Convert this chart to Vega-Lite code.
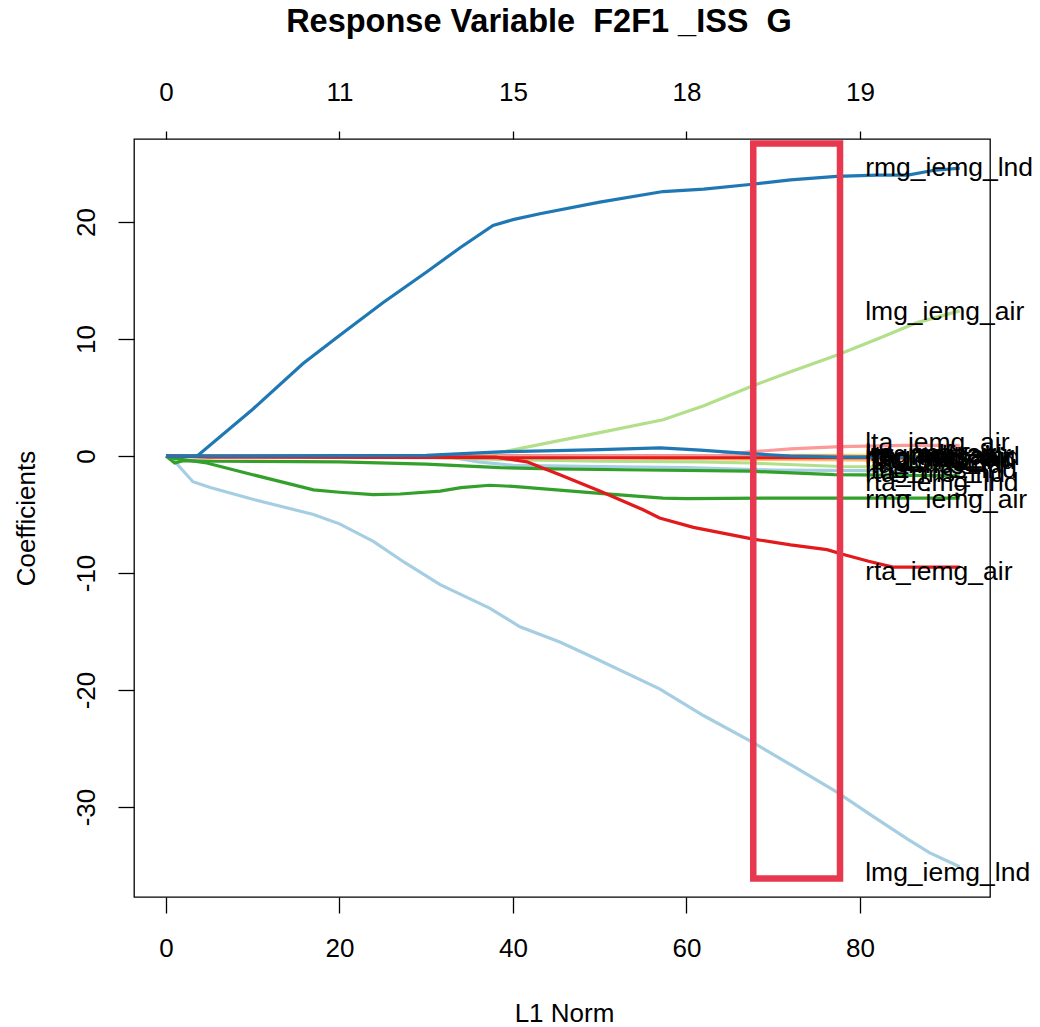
{
  "$schema": "https://vega.github.io/schema/vega-lite/v6.json",
  "width": 856,
  "height": 758,
  "autosize": {"type": "none"},
  "padding": {"left": 134, "top": 139, "right": 50, "bottom": 130},
  "background": "white",
  "config": {
    "view": {"stroke": "black", "strokeWidth": 1.3},
    "font": "Liberation Sans"
  },
  "title": {
    "text": "Response Variable\u00a0 F2F1 _ISS\u00a0 G",
    "font": "Liberation Sans",
    "fontSize": 32.5,
    "fontWeight": "bold",
    "color": "black",
    "anchor": "middle",
    "baseline": "alphabetic",
    "offset": 15,
    "dx": -23
  },
  "datasets": {
    "paths": [
      {"var": "rta_mdf_air", "l1": 0, "coef": 0},
      {"var": "rta_mdf_air", "l1": 85, "coef": 0},
      {"var": "rta_mdf_air", "l1": 91.5, "coef": -0.05},

      {"var": "rta_iemg_lnd", "l1": 0, "coef": 0},
      {"var": "rta_iemg_lnd", "l1": 50, "coef": 0},
      {"var": "rta_iemg_lnd", "l1": 70, "coef": -0.2},
      {"var": "rta_iemg_lnd", "l1": 91.5, "coef": -0.3},

      {"var": "lta_mdf_air", "l1": 0, "coef": 0},
      {"var": "lta_mdf_air", "l1": 80, "coef": 0},
      {"var": "lta_mdf_air", "l1": 91.5, "coef": 0.05},

      {"var": "lta_iemg_lnd", "l1": 0, "coef": 0},
      {"var": "lta_iemg_lnd", "l1": 45, "coef": -0.1},
      {"var": "lta_iemg_lnd", "l1": 70, "coef": -0.3},
      {"var": "lta_iemg_lnd", "l1": 91.5, "coef": -0.4},

      {"var": "lmg_rms_air", "l1": 0, "coef": 0},
      {"var": "lmg_rms_air", "l1": 60, "coef": 0},
      {"var": "lmg_rms_air", "l1": 91.5, "coef": 0.1},

      {"var": "rmg_rms_air", "l1": 0, "coef": 0},
      {"var": "rmg_rms_air", "l1": 70, "coef": 0},
      {"var": "rmg_rms_air", "l1": 91.5, "coef": -0.2},

      {"var": "lta_rms_air", "l1": 0, "coef": 0},
      {"var": "lta_rms_air", "l1": 65, "coef": 0},
      {"var": "lta_rms_air", "l1": 91.5, "coef": 0.2},

      {"var": "rta_rms_air", "l1": 0, "coef": 0},
      {"var": "rta_rms_air", "l1": 75, "coef": 0},
      {"var": "rta_rms_air", "l1": 91.5, "coef": -0.1},

      {"var": "lmg_mdf_air", "l1": 0, "coef": 0},
      {"var": "lmg_mdf_air", "l1": 70, "coef": 0},
      {"var": "lmg_mdf_air", "l1": 91.5, "coef": -0.15},

      {"var": "lmg_iemg_lnd", "l1": 0, "coef": 0},
      {"var": "lmg_iemg_lnd", "l1": 0.8, "coef": -0.3},
      {"var": "lmg_iemg_lnd", "l1": 3.1, "coef": -2.2},
      {"var": "lmg_iemg_lnd", "l1": 5.1, "coef": -2.7},
      {"var": "lmg_iemg_lnd", "l1": 10, "coef": -3.7},
      {"var": "lmg_iemg_lnd", "l1": 17, "coef": -5.0},
      {"var": "lmg_iemg_lnd", "l1": 20, "coef": -5.8},
      {"var": "lmg_iemg_lnd", "l1": 23.9, "coef": -7.3},
      {"var": "lmg_iemg_lnd", "l1": 27.5, "coef": -9.1},
      {"var": "lmg_iemg_lnd", "l1": 31.6, "coef": -11.0},
      {"var": "lmg_iemg_lnd", "l1": 37.3, "coef": -13.0},
      {"var": "lmg_iemg_lnd", "l1": 40.8, "coef": -14.6},
      {"var": "lmg_iemg_lnd", "l1": 45.4, "coef": -15.9},
      {"var": "lmg_iemg_lnd", "l1": 48.9, "coef": -17.1},
      {"var": "lmg_iemg_lnd", "l1": 56.9, "coef": -19.9},
      {"var": "lmg_iemg_lnd", "l1": 62, "coef": -22.2},
      {"var": "lmg_iemg_lnd", "l1": 67.7, "coef": -24.5},
      {"var": "lmg_iemg_lnd", "l1": 72.5, "coef": -26.6},
      {"var": "lmg_iemg_lnd", "l1": 77.3, "coef": -28.7},
      {"var": "lmg_iemg_lnd", "l1": 81.5, "coef": -30.8},
      {"var": "lmg_iemg_lnd", "l1": 85.4, "coef": -32.7},
      {"var": "lmg_iemg_lnd", "l1": 88, "coef": -33.9},
      {"var": "lmg_iemg_lnd", "l1": 91.5, "coef": -35.1},

      {"var": "lmg_iemg_air", "l1": 0, "coef": 0},
      {"var": "lmg_iemg_air", "l1": 35, "coef": 0},
      {"var": "lmg_iemg_air", "l1": 38.5, "coef": 0.3},
      {"var": "lmg_iemg_air", "l1": 44.6, "coef": 1.2},
      {"var": "lmg_iemg_air", "l1": 50, "coef": 2.0},
      {"var": "lmg_iemg_air", "l1": 57.3, "coef": 3.1},
      {"var": "lmg_iemg_air", "l1": 62, "coef": 4.3},
      {"var": "lmg_iemg_air", "l1": 67.3, "coef": 5.9},
      {"var": "lmg_iemg_air", "l1": 72, "coef": 7.2},
      {"var": "lmg_iemg_air", "l1": 77.3, "coef": 8.6},
      {"var": "lmg_iemg_air", "l1": 82, "coef": 10.0},
      {"var": "lmg_iemg_air", "l1": 86.6, "coef": 11.4},
      {"var": "lmg_iemg_air", "l1": 91.5, "coef": 12.4},

      {"var": "lmg_rms_lnd", "l1": 0, "coef": 0},
      {"var": "lmg_rms_lnd", "l1": 32, "coef": 0},
      {"var": "lmg_rms_lnd", "l1": 36, "coef": -0.5},
      {"var": "lmg_rms_lnd", "l1": 40, "coef": -0.8},
      {"var": "lmg_rms_lnd", "l1": 50, "coef": -0.9},
      {"var": "lmg_rms_lnd", "l1": 60, "coef": -1.0},
      {"var": "lmg_rms_lnd", "l1": 70, "coef": -1.2},
      {"var": "lmg_rms_lnd", "l1": 80, "coef": -1.25},
      {"var": "lmg_rms_lnd", "l1": 91.5, "coef": -1.3},

      {"var": "lta_rms_lnd", "l1": 0, "coef": 0},
      {"var": "lta_rms_lnd", "l1": 30, "coef": -0.1},
      {"var": "lta_rms_lnd", "l1": 38.5, "coef": -0.3},
      {"var": "lta_rms_lnd", "l1": 50, "coef": -0.45},
      {"var": "lta_rms_lnd", "l1": 61.6, "coef": -0.5},
      {"var": "lta_rms_lnd", "l1": 67.3, "coef": -0.6},
      {"var": "lta_rms_lnd", "l1": 77.7, "coef": -0.9},
      {"var": "lta_rms_lnd", "l1": 91.5, "coef": -1.0},

      {"var": "rmg_iemg_air", "l1": 0, "coef": 0},
      {"var": "rmg_iemg_air", "l1": 1, "coef": -0.2},
      {"var": "rmg_iemg_air", "l1": 4.7, "coef": -0.6},
      {"var": "rmg_iemg_air", "l1": 10, "coef": -1.6},
      {"var": "rmg_iemg_air", "l1": 17, "coef": -2.9},
      {"var": "rmg_iemg_air", "l1": 20, "coef": -3.1},
      {"var": "rmg_iemg_air", "l1": 23.9, "coef": -3.3},
      {"var": "rmg_iemg_air", "l1": 27, "coef": -3.25},
      {"var": "rmg_iemg_air", "l1": 31.6, "coef": -3.0},
      {"var": "rmg_iemg_air", "l1": 34, "coef": -2.7},
      {"var": "rmg_iemg_air", "l1": 37.3, "coef": -2.5},
      {"var": "rmg_iemg_air", "l1": 40, "coef": -2.6},
      {"var": "rmg_iemg_air", "l1": 45, "coef": -2.9},
      {"var": "rmg_iemg_air", "l1": 50, "coef": -3.2},
      {"var": "rmg_iemg_air", "l1": 57.3, "coef": -3.6},
      {"var": "rmg_iemg_air", "l1": 60, "coef": -3.65},
      {"var": "rmg_iemg_air", "l1": 70, "coef": -3.6},
      {"var": "rmg_iemg_air", "l1": 80, "coef": -3.6},
      {"var": "rmg_iemg_air", "l1": 91.5, "coef": -3.6},

      {"var": "rta_rms_lnd", "l1": 0, "coef": 0},
      {"var": "rta_rms_lnd", "l1": 0.5, "coef": -0.3},
      {"var": "rta_rms_lnd", "l1": 1, "coef": -0.6},
      {"var": "rta_rms_lnd", "l1": 2, "coef": -0.4},
      {"var": "rta_rms_lnd", "l1": 5.8, "coef": -0.45},
      {"var": "rta_rms_lnd", "l1": 20, "coef": -0.5},
      {"var": "rta_rms_lnd", "l1": 30, "coef": -0.7},
      {"var": "rta_rms_lnd", "l1": 38.5, "coef": -1.0},
      {"var": "rta_rms_lnd", "l1": 44.6, "coef": -1.1},
      {"var": "rta_rms_lnd", "l1": 55, "coef": -1.2},
      {"var": "rta_rms_lnd", "l1": 67.3, "coef": -1.3},
      {"var": "rta_rms_lnd", "l1": 77, "coef": -1.6},
      {"var": "rta_rms_lnd", "l1": 91.5, "coef": -1.7},

      {"var": "lta_iemg_air", "l1": 0, "coef": 0},
      {"var": "lta_iemg_air", "l1": 60, "coef": 0},
      {"var": "lta_iemg_air", "l1": 64, "coef": 0.05},
      {"var": "lta_iemg_air", "l1": 67.3, "coef": 0.35},
      {"var": "lta_iemg_air", "l1": 72, "coef": 0.6},
      {"var": "lta_iemg_air", "l1": 77.7, "coef": 0.8},
      {"var": "lta_iemg_air", "l1": 85, "coef": 0.9},
      {"var": "lta_iemg_air", "l1": 91.5, "coef": 0.9},

      {"var": "rta_iemg_air", "l1": 0, "coef": 0},
      {"var": "rta_iemg_air", "l1": 38, "coef": -0.1},
      {"var": "rta_iemg_air", "l1": 41.6, "coef": -0.5},
      {"var": "rta_iemg_air", "l1": 45.4, "coef": -1.6},
      {"var": "rta_iemg_air", "l1": 50, "coef": -3.0},
      {"var": "rta_iemg_air", "l1": 55, "coef": -4.6},
      {"var": "rta_iemg_air", "l1": 56.9, "coef": -5.3},
      {"var": "rta_iemg_air", "l1": 60.8, "coef": -6.1},
      {"var": "rta_iemg_air", "l1": 67.7, "coef": -7.1},
      {"var": "rta_iemg_air", "l1": 72, "coef": -7.6},
      {"var": "rta_iemg_air", "l1": 76.2, "coef": -8.0},
      {"var": "rta_iemg_air", "l1": 78, "coef": -8.4},
      {"var": "rta_iemg_air", "l1": 81, "coef": -9.0},
      {"var": "rta_iemg_air", "l1": 83.8, "coef": -9.5},
      {"var": "rta_iemg_air", "l1": 91.5, "coef": -9.5},

      {"var": "rmg_mdf_air", "l1": 0, "coef": 0},
      {"var": "rmg_mdf_air", "l1": 5, "coef": -0.1},
      {"var": "rmg_mdf_air", "l1": 40, "coef": -0.15},
      {"var": "rmg_mdf_air", "l1": 91.5, "coef": -0.15},

      {"var": "rmg_iemg_lnd", "l1": 0, "coef": 0},
      {"var": "rmg_iemg_lnd", "l1": 3.6, "coef": 0},
      {"var": "rmg_iemg_lnd", "l1": 10, "coef": 4.0},
      {"var": "rmg_iemg_lnd", "l1": 15.8, "coef": 7.9},
      {"var": "rmg_iemg_lnd", "l1": 20, "coef": 10.3},
      {"var": "rmg_iemg_lnd", "l1": 25, "coef": 13.1},
      {"var": "rmg_iemg_lnd", "l1": 30, "coef": 15.7},
      {"var": "rmg_iemg_lnd", "l1": 33.9, "coef": 17.8},
      {"var": "rmg_iemg_lnd", "l1": 37.7, "coef": 19.7},
      {"var": "rmg_iemg_lnd", "l1": 40, "coef": 20.2},
      {"var": "rmg_iemg_lnd", "l1": 43.1, "coef": 20.7},
      {"var": "rmg_iemg_lnd", "l1": 50, "coef": 21.7},
      {"var": "rmg_iemg_lnd", "l1": 57.3, "coef": 22.6},
      {"var": "rmg_iemg_lnd", "l1": 62, "coef": 22.8},
      {"var": "rmg_iemg_lnd", "l1": 67.3, "coef": 23.2},
      {"var": "rmg_iemg_lnd", "l1": 72, "coef": 23.6},
      {"var": "rmg_iemg_lnd", "l1": 77.3, "coef": 23.9},
      {"var": "rmg_iemg_lnd", "l1": 82, "coef": 24.0},
      {"var": "rmg_iemg_lnd", "l1": 85.5, "coef": 24.0},
      {"var": "rmg_iemg_lnd", "l1": 88.4, "coef": 24.4},
      {"var": "rmg_iemg_lnd", "l1": 91.5, "coef": 24.6},

      {"var": "rmg_rms_lnd", "l1": 0, "coef": 0},
      {"var": "rmg_rms_lnd", "l1": 30, "coef": 0.05},
      {"var": "rmg_rms_lnd", "l1": 38.5, "coef": 0.35},
      {"var": "rmg_rms_lnd", "l1": 45, "coef": 0.45},
      {"var": "rmg_rms_lnd", "l1": 50, "coef": 0.55},
      {"var": "rmg_rms_lnd", "l1": 57, "coef": 0.7},
      {"var": "rmg_rms_lnd", "l1": 61.6, "coef": 0.5},
      {"var": "rmg_rms_lnd", "l1": 67.3, "coef": 0.2},
      {"var": "rmg_rms_lnd", "l1": 72, "coef": 0.0},
      {"var": "rmg_rms_lnd", "l1": 77.7, "coef": -0.1},
      {"var": "rmg_rms_lnd", "l1": 91.5, "coef": -0.1}
    ],
    "labels": [
      {"var": "rmg_iemg_lnd", "l1": 80.6, "coef": 24.6},
      {"var": "lmg_iemg_air", "l1": 80.6, "coef": 12.3},
      {"var": "lta_iemg_air", "l1": 80.6, "coef": 1.1},
      {"var": "lta_rms_air", "l1": 80.6, "coef": 0.2},
      {"var": "lmg_rms_air", "l1": 80.6, "coef": 0.1},
      {"var": "lta_mdf_air", "l1": 80.6, "coef": 0.05},
      {"var": "rta_mdf_air", "l1": 80.6, "coef": 0.0},
      {"var": "rmg_rms_lnd", "l1": 80.6, "coef": -0.05},
      {"var": "rta_rms_air", "l1": 80.6, "coef": -0.1},
      {"var": "rmg_mdf_air", "l1": 80.6, "coef": -0.15},
      {"var": "lmg_mdf_air", "l1": 80.6, "coef": -0.2},
      {"var": "rmg_rms_air", "l1": 80.6, "coef": -0.3},
      {"var": "lta_iemg_lnd", "l1": 80.6, "coef": -0.4},
      {"var": "lta_rms_lnd", "l1": 80.6, "coef": -0.8},
      {"var": "lmg_rms_lnd", "l1": 80.6, "coef": -1.2},
      {"var": "rta_rms_lnd", "l1": 80.6, "coef": -1.5},
      {"var": "rta_iemg_lnd", "l1": 80.6, "coef": -2.3},
      {"var": "rmg_iemg_air", "l1": 80.6, "coef": -3.8},
      {"var": "rta_iemg_air", "l1": 80.6, "coef": -9.9},
      {"var": "lmg_iemg_lnd", "l1": 80.6, "coef": -35.6}
    ],
    "box": [
      {"l1": 67.7, "l1_end": 77.7, "coef": 26.7, "coef_end": -36.1}
    ]
  },
  "layer": [
    {
      "data": {"name": "paths"},
      "mark": {"type": "line", "strokeWidth": 3.2, "clip": true},
      "encoding": {
        "x": {
          "field": "l1", "type": "quantitative",
          "scale": {"domain": [-3.69, 94.99], "nice": false, "zero": false},
          "axis": {
            "orient": "bottom",
            "values": [0, 20, 40, 60, 80],
            "title": "L1 Norm",
            "domain": false, "grid": false,
            "tickSize": 16, "tickColor": "black", "tickWidth": 1.3,
            "labelFont": "Liberation Sans", "labelFontSize": 26, "labelColor": "black",
            "labelBaseline": "alphabetic", "labelPadding": 43,
            "titleFont": "Liberation Sans", "titleFontSize": 26, "titleFontWeight": "normal", "titleColor": "black",
            "titleBaseline": "alphabetic", "titleX": 430, "titleY": 124.5, "titleAnchor": "middle"
          }
        },
        "y": {
          "field": "coef", "type": "quantitative",
          "scale": {"domain": [-37.69, 27.09], "nice": false, "zero": false},
          "axis": {
            "values": [20, 10, 0, -10, -20, -30],
            "labelExpr": "'' + datum.value",
            "title": "Coefficients",
            "domain": false, "grid": false,
            "tickSize": 16, "tickColor": "black", "tickWidth": 1.3,
            "labelFont": "Liberation Sans", "labelFontSize": 26, "labelColor": "black",
            "labelAngle": -90, "labelAlign": "center", "labelBaseline": "alphabetic", "labelPadding": 23.5,
            "titleFont": "Liberation Sans", "titleFontSize": 26, "titleFontWeight": "normal", "titleColor": "black",
            "titleAngle": -90, "titleBaseline": "alphabetic", "titleAlign": "center",
            "titleX": -99.5, "titleY": 379
          }
        },
        "color": {
          "field": "var", "type": "nominal", "legend": null,
          "scale": {
            "domain": ["lmg_iemg_lnd", "rmg_iemg_lnd", "lmg_iemg_air", "rmg_iemg_air", "lta_iemg_air", "rta_iemg_air", "lta_iemg_lnd", "rta_iemg_lnd", "lmg_rms_air", "rmg_rms_air", "lta_rms_air", "rta_rms_air", "lmg_rms_lnd", "rmg_rms_lnd", "lta_rms_lnd", "rta_rms_lnd", "lmg_mdf_air", "rmg_mdf_air", "lta_mdf_air", "rta_mdf_air"],
            "range": ["#A6CEE3", "#1F78B4", "#B2DF8A", "#33A02C", "#FB9A99", "#E31A1C", "#FDBF6F", "#FF7F00", "#CAB2D6", "#6A3D9A", "#FFFF99", "#B15928", "#A6CEE3", "#1F78B4", "#B2DF8A", "#33A02C", "#FB9A99", "#E31A1C", "#FDBF6F", "#FF7F00"]
          }
        }
      }
    },
    {
      "data": {"name": "labels"},
      "mark": {"type": "text", "align": "left", "baseline": "middle", "font": "Liberation Sans", "fontSize": 26.5, "color": "black"},
      "encoding": {
        "x": {"field": "l1", "type": "quantitative", "axis": null},
        "y": {"field": "coef", "type": "quantitative"},
        "text": {"field": "var", "type": "nominal"}
      }
    },
    {
      "data": {"name": "box"},
      "mark": {"type": "rect", "filled": false, "stroke": "#E8384F", "strokeWidth": 6.5},
      "encoding": {
        "x": {
          "field": "l1", "type": "quantitative",
          "axis": {
            "orient": "top",
            "values": [0, 20, 40, 60, 80],
            "labelExpr": "datum.value == 0 ? '0' : datum.value == 20 ? '11' : datum.value == 40 ? '15' : datum.value == 60 ? '18' : '19'",
            "title": null,
            "domain": false, "grid": false,
            "tickSize": 8, "tickColor": "black", "tickWidth": 1.3,
            "labelFont": "Liberation Sans", "labelFontSize": 26, "labelColor": "black",
            "labelBaseline": "alphabetic", "labelPadding": 31
          }
        },
        "x2": {"field": "l1_end"},
        "y": {"field": "coef", "type": "quantitative"},
        "y2": {"field": "coef_end"}
      }
    }
  ],
  "resolve": {"axis": {"x": "independent"}}
}
